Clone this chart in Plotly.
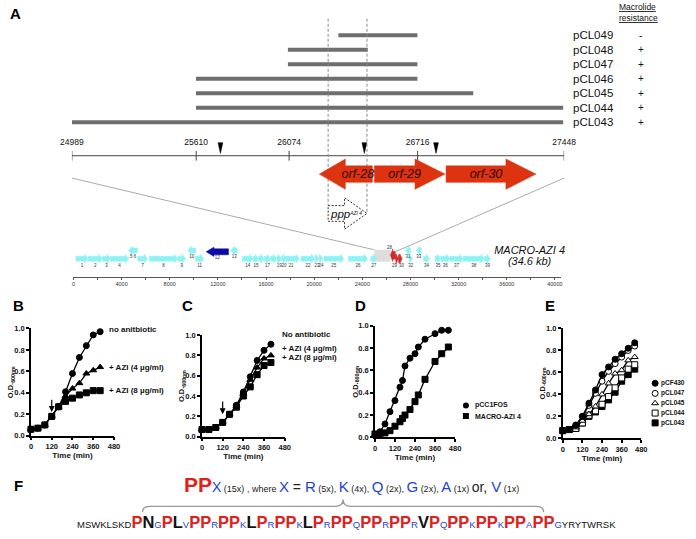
import plotly.graph_objects as go

W, H = 696, 539
FONT = "Arial, Liberation Sans, Helvetica, sans-serif"
RED = "#DD3311"
CYAN = "#8CF2F4"

def px(x):
    return x / W

def py(y):
    return 1 - y / H

# ---------------- Panel A data ----------------
clones = ["pCL049", "pCL048", "pCL047", "pCL046", "pCL045", "pCL044", "pCL043"]
clone_start = [26320, 26068, 26068, 25609, 25609, 25609, 24989]
clone_end = [26715, 26467, 26715, 26715, 26994, 27443, 27443]
resistance = ["-", "+", "+", "+", "+", "+", "+"]
region_ticks = [24989, 25610, 26074, 26716, 27448]
site_marks = [25731, 26450, 26808]
orf_names = ["orf-28", "orf-29", "orf-30"]
orf_start = [26225, 26500, 26858]
orf_end = [26490, 26853, 27307]
orf_strand = [-1, 1, 1]
ppp_start, ppp_end = 26269, 26463

# fosmid map (MACRO-AZI 4)
map_labels = ["1", "2", "3", "4", "5 6", "7", "8", "9", "10", "11", "12", "13", "14", "15", "16",
              "17", "18", "19", "20", "21", "22", "23", "24", "25", "26", "27",
              "31", "32", "33", "34", "35", "36", "37", "38", "39"]
map_start = [205, 1215, 2400, 3080, 4580, 5350, 6300, 8670, 9510, 10140, 11020, 13080, 14030, 14930, 15400,
             15850, 16400, 16900, 17300, 17370, 18910, 20060, 20410, 20800, 22850, 24710,
             27580, 27860, 28490, 29090, 30050, 30510, 31280, 32380, 34150]
map_end = [1215, 2400, 3080, 4580, 5320, 6150, 8670, 9320, 10140, 10830, 12880, 13620, 14930, 15400, 15850,
           16400, 16900, 17300, 17700, 18770, 20060, 20410, 20740, 22460, 24440, 25200,
           28000, 28190, 28900, 29590, 30510, 31280, 32380, 34150, 34650]
map_strand = [1, 1, 1, 1, -1, 1, 1, 1, -1, 1, -1, -1, 1, 1, 1,
              1, 1, 1, 1, 1, 1, 1, 1, 1, 1, 1,
              -1, 1, -1, 1, 1, 1, 1, 1, 1]
map_show_label = [True, True, True, True, True, True, True, True, True, True, True, True, True, True, False,
                  True, False, True, True, True, True, True, True, True, True, True,
                  True, True, True, True, True, True, True, True, True]
insert_start, insert_end = 24989, 26400
map_red_labels = ["28", "29", "30"]
map_red_start = [26330, 26740, 27000]
map_red_end = [26740, 27000, 27310]
map_red_strand = [-1, 1, 1]
map_ticks = [0, 4000, 8000, 12000, 16000, 20000, 24000, 28000, 32000, 36000, 40000]

# ---------------- Panels B-E data ----------------
B_time = [0, 40, 80, 120, 160, 200, 240, 280, 320, 360, 400]
B_none = [0.06, 0.07, 0.10, 0.18, 0.27, 0.41, 0.58, 0.73, 0.84, 0.94, 0.97]
B_azi4 = [0.06, 0.07, 0.10, 0.18, 0.27, 0.37, 0.44, 0.49, 0.58, 0.61, 0.64]
B_azi8 = [0.06, 0.07, 0.10, 0.18, 0.27, 0.32, 0.35, 0.38, 0.40, 0.42, 0.42]
B_names = ["no anitbiotic", "+ AZI (4 \u00b5g/ml)", "+ AZI (8 \u00b5g/ml)"]

C_time = [0, 40, 80, 120, 160, 200, 240, 280, 320, 360, 400]
C_none = [0.07, 0.07, 0.09, 0.14, 0.22, 0.31, 0.44, 0.59, 0.75, 0.85, 0.91]
C_azi4 = [0.07, 0.07, 0.09, 0.14, 0.22, 0.30, 0.42, 0.56, 0.68, 0.77, 0.80]
C_azi8 = [0.07, 0.07, 0.09, 0.14, 0.22, 0.29, 0.40, 0.49, 0.61, 0.70, 0.73]
C_names = ["No antibiotic", "+ AZI (4 \u00b5g/ml)", "+ AZI (8 \u00b5g/ml)"]

D_time = [0, 30, 60, 90, 120, 150, 165, 180, 210, 240, 260, 300, 360, 400, 440]
D_fos = [0.02, 0.05, 0.12, 0.23, 0.33, 0.45, 0.51, 0.64, 0.71, 0.75, 0.81, 0.88, 0.93, 0.96, 0.96]
D_macro = [0.03, 0.03, 0.04, 0.06, 0.10, 0.14, 0.17, 0.20, 0.25, 0.32, 0.38, 0.52, 0.68, 0.75, 0.81]
D_names = ["pCC1FOS", "MACRO-AZI 4"]

E_time = [0, 40, 80, 120, 160, 200, 240, 280, 320, 360, 400, 440]
E_pCF430 = [0.07, 0.08, 0.12, 0.20, 0.32, 0.44, 0.58, 0.65, 0.72, 0.77, 0.82, 0.87]
E_pCL047 = [0.07, 0.08, 0.12, 0.20, 0.30, 0.41, 0.52, 0.61, 0.68, 0.74, 0.80, 0.84]
E_pCL045 = [0.07, 0.08, 0.10, 0.16, 0.22, 0.29, 0.40, 0.50, 0.59, 0.62, 0.71, 0.74]
E_pCL044 = [0.07, 0.08, 0.09, 0.14, 0.21, 0.25, 0.31, 0.38, 0.46, 0.55, 0.63, 0.67]
E_pCL043 = [0.07, 0.08, 0.09, 0.14, 0.20, 0.24, 0.29, 0.35, 0.42, 0.52, 0.58, 0.63]
E_names = ["pCF430", "pCL047", "pCL045", "pCL044", "pCL043"]

time_ticks = [0, 120, 240, 360, 480]
od_ticks = [0.0, 0.2, 0.4, 0.6, 0.8, 1.0]

fig = go.Figure()

# ---------- geometry ----------
A_X0, A_X1 = 70.7, 568.7          # pixel extents of region axis
ROW0, ROWSTEP = 31.7, 14.77
AXIS_Y = 154.3
ORF_Y = 173
MAP_Y = 259


def gx_paper(bp):
    return px(A_X0 + (bp - region_ticks[0]) * (A_X1 - A_X0) / (region_ticks[-1] - region_ticks[0]))


MAP_X0, MAP_X1 = 72.3, 566.0
MAP_MAX = 40550


def mx_paper(bp):
    return px(MAP_X0 + bp * (MAP_X1 - MAP_X0) / MAP_MAX)


def arrow_poly(s, e, strand, yc, bh, hh, hl):
    if strand > 0:
        tail, tip = s, e
        base = max(tip - hl, tail)
    else:
        tail, tip = e, s
        base = min(tip + hl, tail)
    xs = [tail, base, base, tip, base, base, tail, tail]
    ys = [yc - bh, yc - bh, yc - hh, yc, yc + hh, yc + bh, yc + bh, yc - bh]
    return xs, ys


# ---------- Panel A: clone bars ----------
bx, by = [], []
for i, (s, e) in enumerate(zip(clone_start, clone_end)):
    y = ROW0 + i * ROWSTEP
    bx += [s, e, None]
    by += [y, y, None]
fig.add_trace(go.Scatter(x=bx, y=by, mode="lines", line=dict(color="#6E6E6E", width=4),
                         xaxis="x", yaxis="y", hoverinfo="skip", showlegend=False))

# region axis line and crossing ticks
tx, ty = [region_ticks[0], region_ticks[-1], None], [AXIS_Y, AXIS_Y, None]
for t in region_ticks:
    tx += [t, t, None]
    ty += [AXIS_Y - 5, AXIS_Y + 5, None]
fig.add_trace(go.Scatter(x=tx, y=ty, mode="lines", line=dict(color="#444", width=1),
                         xaxis="x", yaxis="y", hoverinfo="skip", showlegend=False))
fig.add_trace(go.Scatter(x=region_ticks, y=[141] * len(region_ticks), mode="text",
                         text=[str(t) for t in region_ticks], cliponaxis=False,
                         textfont=dict(family=FONT, size=8.5, color="#111"),
                         xaxis="x", yaxis="y", hoverinfo="skip", showlegend=False))

# site marks (black narrow triangles)
sx, sy = [], []
for m in site_marks:
    sx += [m - 12, m + 12, m, m - 12, None]
    sy += [141, 141, 152, 141, None]
fig.add_trace(go.Scatter(x=sx, y=sy, mode="lines", fill="toself", fillcolor="black",
                         line=dict(color="black", width=0.5),
                         xaxis="x", yaxis="y", hoverinfo="skip", showlegend=False))

# dashed vertical guides
fig.add_trace(go.Scatter(x=[ppp_start, ppp_start, None, ppp_end, ppp_end],
                         y=[15, 205, None, 15, 213], mode="lines",
                         line=dict(color="#888", width=1, dash="3px,2px"),
                         xaxis="x", yaxis="y", hoverinfo="skip", showlegend=False))

# orf arrows
ox, oy = [], []
for s, e, st in zip(orf_start, orf_end, orf_strand):
    xs, ys = arrow_poly(s, e, st, ORF_Y, 8.4, 15.4, 130 if st < 0 else 150)
    ox += xs + [None]
    oy += ys + [None]
fig.add_trace(go.Scatter(x=ox, y=oy, mode="lines", fill="toself", fillcolor=RED,
                         line=dict(color=RED, width=0.5),
                         xaxis="x", yaxis="y", hoverinfo="skip", showlegend=False))
orf_text_x = [(s + e) / 2 + (60 if st < 0 else -25) for s, e, st in zip(orf_start, orf_end, orf_strand)]
fig.add_trace(go.Scatter(x=orf_text_x, y=[ORF_Y + 1] * 3, mode="text", text=orf_names,
                         textfont=dict(family=FONT, size=12.5, color="#2a0800", style="italic"),
                         xaxis="x", yaxis="y", hoverinfo="skip", showlegend=False))

# ppp promoter (dashed outline arrow)
xs, ys = arrow_poly(ppp_start, ppp_end, 1, 213, 8, 16, 112)
fig.add_trace(go.Scatter(x=xs, y=ys, mode="lines", fill="toself", fillcolor="white",
                         line=dict(color="#333", width=1, dash="2px,1.5px"),
                         xaxis="x", yaxis="y", hoverinfo="skip", showlegend=False))
fig.add_annotation(x=gx_paper(ppp_start), y=py(214), xref="paper", yref="paper",
                   xanchor="left", yanchor="middle", showarrow=False,
                   text="<i>ppp</i><span style='font-size:7px'><sup><i>AZI 4</i></sup></span>",
                   font=dict(family=FONT, size=11.5, color="#111"))

# zoom lines from region axis to map
for (a_bp, m_bp, y_m) in [(region_ticks[0], insert_start, 250), (region_ticks[-1], map_red_end[0], 252)]:
    fig.add_shape(type="line", xref="paper", yref="paper",
                  x0=gx_paper(a_bp), y0=py(177), x1=mx_paper(m_bp), y1=py(y_m),
                  line=dict(color="#AAAAAA", width=1))

# clone labels & resistance
for i, (c, r) in enumerate(zip(clones, resistance)):
    y = ROW0 + i * ROWSTEP
    fig.add_annotation(x=px(576), y=py(y), xref="paper", yref="paper", xanchor="left",
                       yanchor="middle", showarrow=False, text=c,
                       font=dict(family=FONT, size=11.5, color="#111"))
    fig.add_annotation(x=px(646), y=py(y), xref="paper", yref="paper", xanchor="center",
                       yanchor="middle", showarrow=False, text=r,
                       font=dict(family=FONT, size=10, color="#111"))
fig.add_annotation(x=px(644), y=py(9), xref="paper", yref="paper", xanchor="center",
                   yanchor="middle", showarrow=False, align="left",
                   text="<u>Macrolide</u><br><u>resistance</u>",
                   font=dict(family=FONT, size=8.5, color="#111"))

# ---------- fosmid map ----------
gx_c, gy_c = [], []
gx_b, gy_b = [], []
lab_x, lab_y, lab_t = [], [], []
for lab, s, e, st, show in zip(map_labels, map_start, map_end, map_strand, map_show_label):
    if lab == "12":
        xs, ys = arrow_poly(s, e, st, 252, 3, 4.7, 650)
        gx_b += xs + [None]
        gy_b += ys + [None]
        ly = 257.7
    else:
        yc = MAP_Y if st > 0 else 250.7
        xs, ys = arrow_poly(s, e, st, yc, 2.5, 4.5, 290)
        gx_c += xs + [None]
        gy_c += ys + [None]
        ly = 266.7 if st > 0 else 257.5
    if show:
        lab_x.append((s + e) / 2)
        lab_y.append(ly)
        lab_t.append(lab)

fig.add_trace(go.Scatter(x=[insert_start, map_red_start[0], map_red_start[0], insert_start, insert_start],
                         y=[250, 250, 262, 262, 250], mode="lines", fill="toself",
                         fillcolor="#DDDDDD", line=dict(color="#DDDDDD", width=0),
                         xaxis="x2", yaxis="y", hoverinfo="skip", showlegend=False))
fig.add_trace(go.Scatter(x=gx_c, y=gy_c, mode="lines", fill="toself", fillcolor=CYAN,
                         line=dict(color=CYAN, width=0.5),
                         xaxis="x2", yaxis="y", hoverinfo="skip", showlegend=False))
fig.add_trace(go.Scatter(x=gx_b, y=gy_b, mode="lines", fill="toself", fillcolor="#0A0AA8",
                         line=dict(color="#0A0AA8", width=0.5),
                         xaxis="x2", yaxis="y", hoverinfo="skip", showlegend=False))
rx, ry = [], []
for s, e, st in zip(map_red_start, map_red_end, map_red_strand):
    yc = 255.5 if st < 0 else MAP_Y
    xs, ys = arrow_poly(s, e, st, yc, 4, 6.5 if st < 0 else 5, 200)
    rx += xs + [None]
    ry += ys + [None]
fig.add_trace(go.Scatter(x=rx, y=ry, mode="lines", fill="toself", fillcolor="#D42A2A",
                         line=dict(color="#D42A2A", width=0.5),
                         xaxis="x2", yaxis="y", hoverinfo="skip", showlegend=False))
lab_x += [map_red_start[0] - 80, map_red_start[1] - 60, map_red_start[2] + 250]
lab_y += [248.3, 266.7, 266.7]
lab_t += map_red_labels
fig.add_trace(go.Scatter(x=lab_x, y=lab_y, mode="text", text=lab_t, cliponaxis=False,
                         textfont=dict(family=FONT, size=4.5, color="#333"),
                         xaxis="x2", yaxis="y", hoverinfo="skip", showlegend=False))
fig.add_trace(go.Scatter(x=[37900, 37900], y=[251.2, 262.2], mode="text", cliponaxis=False,
                         text=["<i>MACRO-AZI 4</i>", "<i>(34.6 kb)</i>"],
                         textfont=dict(family=FONT, size=11, color="#111"),
                         xaxis="x2", yaxis="y", hoverinfo="skip", showlegend=False))

# ---------- growth panels ----------
panel_geo = {
    # name: (x_left_px, x_right_px, y_top_px(1.0), y_bottom_px(0))
    "B": (29.3, 113.3, 330.0, 439.0),
    "C": (202.3, 286.0, 336.7, 440.0),
    "D": (377.3, 458.3, 327.3, 440.7),
    "E": (567.3, 646.7, 330.0, 441.7),
}
axis_ids = {"B": 3, "C": 4, "D": 5, "E": 6}

layout_axes = {}
for name, (xl, xr, yt, yb) in panel_geo.items():
    n = axis_ids[name]
    layout_axes[f"xaxis{n}"] = dict(
        domain=[px(xl), px(xr)], range=[0, 480], anchor=f"y{n}",
        tickvals=time_ticks, ticktext=[str(t) for t in time_ticks],
        showline=True, linecolor="black", linewidth=1.5, ticks="outside", ticklen=3,
        tickwidth=1.5, tickcolor="black", showgrid=False, zeroline=False,
        tickfont=dict(family=FONT, size=7.5, color="#111", weight="bold"),
        title=dict(text="Time (min)", standoff=2,
                   font=dict(family=FONT, size=8, color="#111", weight="bold")))
    layout_axes[f"yaxis{n}"] = dict(
        domain=[py(yb), py(yt)], range=[0, 1.0], anchor=f"x{n}",
        tickvals=od_ticks, ticktext=[f"{t:.1f}" for t in od_ticks],
        showline=True, linecolor="black", linewidth=1.5, ticks="outside", ticklen=3,
        tickwidth=1.5, tickcolor="black", showgrid=False, zeroline=False,
        tickfont=dict(family=FONT, size=7.5, color="#111", weight="bold"))
    fig.add_annotation(x=px(xl - 20), y=py((yt + yb) / 2), xref="paper", yref="paper",
                       textangle=-90, showarrow=False, xanchor="center", yanchor="middle",
                       text="<b>O.D.<sub>600nm</sub></b>",
                       font=dict(family=FONT, size=7.5, color="#111"))


def curve(n, t, v, symbol, fill="black", size=6):
    fig.add_trace(go.Scatter(x=t, y=v, mode="lines+markers", xaxis=f"x{n}", yaxis=f"y{n}",
                             line=dict(color="black", width=1.3),
                             marker=dict(symbol=symbol, size=size, color=fill,
                                         line=dict(color="black", width=1)),
                             cliponaxis=False, hoverinfo="skip", showlegend=False))


curve(3, B_time, B_azi8, "square")
curve(3, B_time, B_azi4, "triangle-up")
curve(3, B_time, B_none, "circle")
curve(4, C_time, C_azi8, "square")
curve(4, C_time, C_azi4, "triangle-up")
curve(4, C_time, C_none, "circle")
curve(5, D_time, D_macro, "square")
curve(5, D_time, D_fos, "circle")
curve(6, E_time, E_pCL043, "square")
curve(6, E_time, E_pCL044, "square", "white")
curve(6, E_time, E_pCL045, "triangle-up", "white")
curve(6, E_time, E_pCL047, "circle", "white")
curve(6, E_time, E_pCF430, "circle")

# arrows (AZI addition at 120 min)
for n, (y0, y1) in [(3, (0.35, 0.22)), (4, (0.36, 0.22))]:
    fig.add_annotation(x=120, y=y1, ax=120, ay=y0, xref=f"x{n}", yref=f"y{n}",
                       axref=f"x{n}", ayref=f"y{n}", showarrow=True, arrowhead=2,
                       arrowsize=1, arrowwidth=1.2, arrowcolor="black", text="")

# inline legends
def legend_text(x, y, t, size=8):
    fig.add_annotation(x=px(x), y=py(y), xref="paper", yref="paper", xanchor="left",
                       yanchor="middle", showarrow=False, text=f"<b>{t}</b>",
                       font=dict(family=FONT, size=size, color="#111"))

for t, y in zip(B_names, [330.7, 369.3, 392.7]):
    legend_text(106.7, y, t)
for t, y in zip(C_names, [335.7, 350, 359]):
    legend_text(281, y, t)

# legend markers on a pixel canvas axis
legD_y = [408.3, 419]
fig.add_trace(go.Scatter(x=[469.3, 469.3], y=legD_y, mode="markers", xaxis="x7", yaxis="y",
                         marker=dict(symbol=["circle", "square"], size=6, color="black"),
                         hoverinfo="skip", showlegend=False))
for t, y in zip(D_names, legD_y):
    legend_text(476, y, t, 7)
legE_y = [385.7, 396, 406, 416, 426]
fig.add_trace(go.Scatter(x=[660.7] * 5, y=legE_y, mode="markers", xaxis="x7", yaxis="y",
                         marker=dict(symbol=["circle", "circle", "triangle-up", "square", "square"],
                                     size=6, color=["black", "white", "white", "white", "black"],
                                     line=dict(color="black", width=1)),
                         hoverinfo="skip", showlegend=False))
for t, y in zip(E_names, legE_y):
    legend_text(665, y, t, 6.5)

# panel letters
for lab, x, y in [("A", 6, 10), ("B", 9, 307), ("C", 180, 307), ("D", 355, 307),
                  ("E", 547, 307), ("F", 10, 490)]:
    fig.add_annotation(x=px(x), y=py(y), xref="paper", yref="paper", xanchor="left",
                       yanchor="middle", showarrow=False, text=f"<b>{lab}</b>",
                       font=dict(family=FONT, size=15, color="black"))

# ---------- Panel F ----------
F_RED = "#E0201B"
F_BLUE = "#1F3FD6"


def sp(t, color, size, bold=False):
    s = f"<span style='color:{color};font-size:{size}px'>{t}</span>"
    return f"<b>{s}</b>" if bold else s


motif = (sp("PP", F_RED, 21, True) + sp("X", F_BLUE, 14) + sp(" (15x)", "#222", 9) +
         sp(" , where ", "#222", 9) + sp("X", F_BLUE, 15) + sp(" = ", "#222", 14) +
         sp("R", F_BLUE, 15) + sp(" (5x), ", "#222", 9) + sp("K", F_BLUE, 15) + sp(" (4x), ", "#222", 9) +
         sp("Q", F_BLUE, 15) + sp(" (2x), ", "#222", 9) + sp("G", F_BLUE, 15) + sp(" (2x), ", "#222", 9) +
         sp("A", F_BLUE, 15) + sp(" (1x) ", "#222", 9) + sp("or, ", "#222", 14) +
         sp("V", F_BLUE, 15) + sp(" (1x)", "#222", 9))
fig.add_annotation(x=px(354), y=py(489), xref="paper", yref="paper", xanchor="center",
                   yanchor="middle", showarrow=False, text=motif,
                   font=dict(family=FONT, size=12, color="#222"))

seq_tokens = [("MSWKLSKD", "s"), ("P", "R"), ("N", "K"), ("G", "b"), ("P", "R"), ("L", "K"), ("V", "b"),
              ("PP", "R"), ("R", "b"), ("PP", "R"), ("K", "b"), ("L", "K"), ("P", "R"), ("R", "b"),
              ("PP", "R"), ("K", "b"), ("L", "K"), ("P", "R"), ("R", "b"), ("PP", "R"), ("Q", "b"),
              ("PP", "R"), ("R", "b"), ("PP", "R"), ("R", "b"), ("V", "K"), ("P", "R"), ("Q", "b"),
              ("PP", "R"), ("K", "b"), ("PP", "R"), ("K", "b"), ("PP", "R"), ("A", "b"),
              ("PP", "R"), ("G", "b"), ("YRYTWRSK", "s")]
style = {"s": ("#111", 9.5, False), "R": (F_RED, 16.5, True), "K": ("#111", 16.5, True),
         "b": (F_BLUE, 9.5, False)}
seq = "".join(sp(t, *style[k]) for t, k in seq_tokens)
fig.add_annotation(x=px(349), y=py(527), xref="paper", yref="paper", xanchor="center",
                   yanchor="middle", showarrow=False, text=seq,
                   font=dict(family=FONT, size=12, color="#111"))

# curly brace over the repeat region
bl, br, bm, by0, by1, byc = 142, 548, 345, 517, 511, 504
path = (f"M {px(bl)},{py(by0)} Q {px(bl)},{py(by1)} {px(bl + 8)},{py(by1)} "
        f"L {px(bm - 8)},{py(by1)} Q {px(bm)},{py(by1)} {px(bm)},{py(byc)} "
        f"Q {px(bm)},{py(by1)} {px(bm + 8)},{py(by1)} "
        f"L {px(br - 8)},{py(by1)} Q {px(br)},{py(by1)} {px(br)},{py(by0)}")
fig.add_shape(type="path", xref="paper", yref="paper", path=path,
              line=dict(color="#999999", width=1.3))

fig.update_layout(
    width=W, height=H, margin=dict(l=0, r=0, t=0, b=0),
    paper_bgcolor="white", plot_bgcolor="rgba(0,0,0,0)", showlegend=False,
    font=dict(family=FONT),
    xaxis=dict(domain=[px(A_X0), px(A_X1)], range=[region_ticks[0], region_ticks[-1]],
               visible=False, anchor="y"),
    yaxis=dict(domain=[0, 1], range=[H, 0], visible=False, anchor="x"),
    xaxis2=dict(domain=[px(MAP_X0), px(MAP_X1)], range=[0, MAP_MAX], anchor="free",
                position=py(277.3), showline=True, linecolor="#555", linewidth=1,
                tickvals=map_ticks, ticktext=[str(t) for t in map_ticks], ticks="outside",
                ticklen=2, tickcolor="#555", showgrid=False, zeroline=False,
                tickfont=dict(family=FONT, size=5.5, color="#333"),
                minor=dict(dtick=2000, ticks="outside", ticklen=2, tickcolor="#555")),
    xaxis7=dict(domain=[0, 1], range=[0, W], visible=False, anchor="y"),
    **layout_axes,
)

fig.write_html("out.html", config={"displayModeBar": False},
               post_script="document.body.style.margin='0';")
